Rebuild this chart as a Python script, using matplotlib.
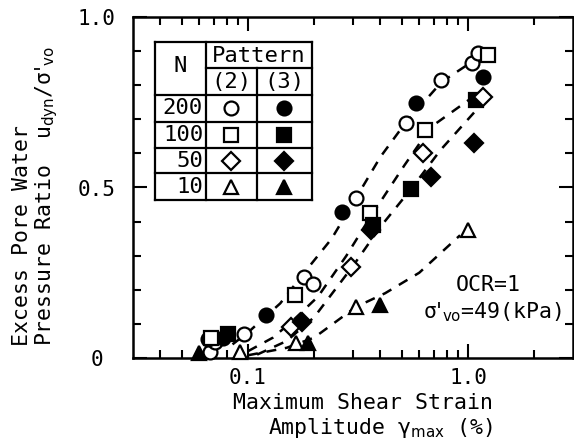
import matplotlib
matplotlib.use("Agg")
import matplotlib.pyplot as plt
from matplotlib.lines import Line2D
from matplotlib.ticker import FixedLocator, NullFormatter

plt.rcParams['font.family'] = ['DejaVu Sans Mono']
plt.rcParams['mathtext.fontset'] = 'dejavusans'

# ---- data ----
c2_x = [0.067, 0.071, 0.096, 0.179, 0.197, 0.31, 0.525, 0.757, 1.04, 1.11]
c2_y = [0.018, 0.047, 0.070, 0.238, 0.217, 0.468, 0.688, 0.815, 0.866, 0.894]
c3_x = [0.066, 0.077, 0.121, 0.266, 0.582, 1.17]
c3_y = [0.055, 0.059, 0.126, 0.429, 0.747, 0.825]
s2_x = [0.068, 0.163, 0.357, 0.635, 1.23]
s2_y = [0.059, 0.185, 0.424, 0.669, 0.889]
s3_x = [0.081, 0.37, 0.551, 1.09]
s3_y = [0.070, 0.390, 0.495, 0.757]
d2_x = [0.157, 0.295, 0.624, 1.17]
d2_y = [0.092, 0.268, 0.600, 0.766]
d3_x = [0.175, 0.362, 0.681, 1.07]
d3_y = [0.107, 0.375, 0.532, 0.630]
t2_x = [0.092, 0.166, 0.31, 1.0]
t2_y = [0.018, 0.043, 0.150, 0.375]
t3_x = [0.060, 0.187, 0.397]
t3_y = [0.014, 0.043, 0.155]

# dashed trend curves
curveA_x = [0.085, 0.1, 0.14, 0.18, 0.24, 0.31, 0.4, 0.52, 0.76, 1.05]
curveA_y = [0.04, 0.075, 0.16, 0.25, 0.35, 0.47, 0.59, 0.69, 0.81, 0.87]
curveB_x = [0.1, 0.13, 0.16, 0.208, 0.28, 0.357, 0.515, 0.68, 1.11]
curveB_y = [0.02, 0.06, 0.11, 0.18, 0.30, 0.41, 0.566, 0.678, 0.776]
curveC_x = [0.11, 0.15, 0.2, 0.3, 0.4, 0.55, 0.75, 1.09]
curveC_y = [0.01, 0.05, 0.12, 0.27, 0.385, 0.495, 0.61, 0.727]
curveD_x = [0.1, 0.15, 0.2, 0.31, 0.42, 0.6, 0.92]
curveD_y = [0.008, 0.03, 0.06, 0.15, 0.19, 0.25, 0.36]

legend_N = ["200", "100", "50", "10"]

W, H = 574, 448
fig = plt.figure(figsize=(W / 100, H / 100), dpi=100)
ax = fig.add_axes([133 / W, 1 - 358 / H, (573 - 133) / W, (358 - 17) / H])
ax.set_xscale('log')
ax.set_xlim(0.03, 3.0)
ax.set_ylim(0, 1.0)

dash = dict(color='black', lw=1.8, ls=(0, (4, 3.5)), zorder=2)
for cx, cy in [(curveA_x, curveA_y), (curveB_x, curveB_y),
               (curveC_x, curveC_y), (curveD_x, curveD_y)]:
    ax.plot(cx, cy, **dash)

ms = 10
mew = 1.6
series = [
    (c2_x, c2_y, 'o', 'white', ms),
    (c3_x, c3_y, 'o', 'black', ms),
    (s2_x, s2_y, 's', 'white', ms - 0.5),
    (s3_x, s3_y, 's', 'black', ms - 0.5),
    (d2_x, d2_y, 'D', 'white', ms - 1),
    (d3_x, d3_y, 'D', 'black', ms - 1),
    (t2_x, t2_y, '^', 'white', ms + 0.5),
    (t3_x, t3_y, '^', 'black', ms + 0.5),
]
for sx, sy, m, fc, s in series:
    ax.plot(sx, sy, ls='none', marker=m, mfc=fc, mec='black', mew=mew,
            ms=s, zorder=3, clip_on=False)

# ticks
ax.xaxis.set_major_locator(FixedLocator([0.1, 1.0]))
ax.xaxis.set_minor_locator(FixedLocator(
    [0.04, 0.05, 0.06, 0.07, 0.08, 0.09, 0.2, 0.3, 0.4, 0.5, 0.6, 0.7, 0.8,
     0.9, 2.0]))
ax.xaxis.set_minor_formatter(NullFormatter())
ax.set_xticklabels(["0.1", "1.0"])
ax.yaxis.set_major_locator(FixedLocator([0, 0.5, 1.0]))
ax.yaxis.set_minor_locator(FixedLocator([0.1, 0.2, 0.3, 0.4, 0.6, 0.7, 0.8, 0.9]))
ax.set_yticklabels(["0", "0.5", "1.0"])
ax.tick_params(which='both', direction='in', top=True, right=True, width=1.5,
               labelsize=15)
ax.tick_params(which='major', length=10)
ax.tick_params(which='minor', length=6)
ax.tick_params(axis='x', which='major', pad=7)
for lab in ax.get_yticklabels():
    lab.set_horizontalalignment('center')
ax.yaxis.set_tick_params(pad=26)
for sp in ax.spines.values():
    sp.set_linewidth(1.8)

# axis labels
fig.text(22 / W, 1 - 346 / H, "Excess Pore Water", rotation=90,
         rotation_mode='anchor', ha='left', va='center', fontsize=15.5)
fig.text(47 / W, 1 - 346 / H, "Pressure Ratio  u$_{\\mathrm{dyn}}$/σ$'_{\\mathrm{vo}}$",
         rotation=90, rotation_mode='anchor', ha='left', va='center',
         fontsize=15.5)
fig.text(493 / W, 1 - 403 / H, "Maximum Shear Strain", ha='right',
         va='center', fontsize=15.5)
fig.text(493 / W, 1 - 428 / H, "Amplitude γ$_{\\mathrm{max}}$ (%)", ha='right',
         va='center', fontsize=15.5)

# annotation
fig.text(488 / W, 1 - 285 / H, "OCR=1", ha='center', va='center', fontsize=15.5)
fig.text(492 / W, 1 - 312 / H, "σ$'_{\\mathrm{vo}}$=49(kPa)", ha='center',
         va='center', fontsize=15.5)

# legend table (figure pixel coordinates)
def fx(px):
    return px / W

def fy(py):
    return 1 - py / H

L, R = 155, 312
c1, c2 = 206, 257
rows = [95, 121.7, 147.7, 173.3, 200]
lw = 1.6
def hline(y, x0, x1):
    fig.add_artist(Line2D([fx(x0), fx(x1)], [fy(y), fy(y)], color='black', lw=lw))
def vline(x, y0, y1):
    fig.add_artist(Line2D([fx(x), fx(x)], [fy(y0), fy(y1)], color='black', lw=lw))

hline(42, L, R)
hline(68.3, c1, R)
for r in rows:
    hline(r, L, R)
vline(L, 42, 200)
vline(R, 42, 200)
vline(c1, 42, 200)
vline(c2, 68.3, 200)

fig.text(fx(180), fy(66), "N", ha='center', va='center', fontsize=16)
fig.text(fx(259), fy(56), "Pattern", ha='center', va='center', fontsize=16)
fig.text(fx(231), fy(82), "(2)", ha='center', va='center', fontsize=16)
fig.text(fx(284), fy(82), "(3)", ha='center', va='center', fontsize=16)
markers = ['o', 's', 'D', '^']
msz = [10, 9.5, 9, 10.5]
for i, n in enumerate(legend_N):
    yc = (rows[i] + rows[i + 1]) / 2
    fig.text(fx(203), fy(yc), n, ha='right', va='center', fontsize=16)
    for xc, fc in [(231, 'white'), (284, 'black')]:
        fig.add_artist(Line2D([fx(xc)], [fy(yc)], marker=markers[i], ls='none',
                              mfc=fc, mec='black', mew=mew, ms=msz[i]))

fig.savefig("out.png", dpi=100)
